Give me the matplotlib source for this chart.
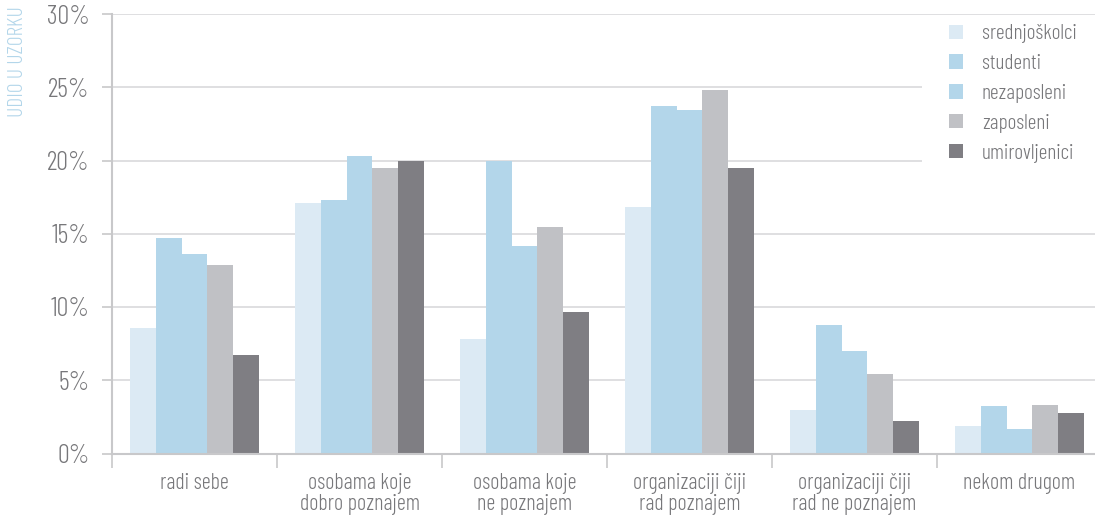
import matplotlib
matplotlib.use("Agg")
import matplotlib.pyplot as plt
import numpy as np
from matplotlib.ticker import FixedLocator, FuncFormatter
from matplotlib.patches import Rectangle

categories = ["radi sebe", "osobama koje\ndobro poznajem", "osobama koje\nne poznajem",
              "organizaciji čiji\nrad poznajem", "organizaciji čiji\nrad ne poznajem", "nekom drugom"]
series_names = ["srednjoškolci", "studenti", "nezaposleni", "zaposleni", "umirovljenici"]
srednjoskolci = [8.6, 17.1, 7.8, 16.8, 3.0, 1.9]
studenti = [14.7, 17.3, 20.0, 23.7, 8.8, 3.25]
nezaposleni = [13.6, 20.3, 14.15, 23.45, 7.0, 1.7]
zaposleni = [12.85, 19.5, 15.45, 24.8, 5.45, 3.3]
umirovljenici = [6.7, 20.0, 9.65, 19.5, 2.2, 2.75]
yticks = [0, 5, 10, 15, 20, 25, 30]

values = [srednjoskolci, studenti, nezaposleni, zaposleni, umirovljenici]
colors = ["#dceaf4", "#b3d6ea", "#b3d6ea", "#c0c1c5", "#7f7e83"]

font = ["Barlow Condensed", "Barlow Semi Condensed", "DejaVu Sans"]
plt.rcParams['font.family'] = font
plt.rcParams['font.weight'] = 300
text_color = "#77777a"

W, H = 1095, 515
fig = plt.figure(figsize=(W/100, H/100), dpi=100)
left, right, top, bottom = 112, 1102, 14, 453.5
ax = fig.add_axes([left/W, 1 - bottom/H, (right-left)/W, (bottom-top)/H])

n = len(categories)
x = np.arange(n)
bw = 25.8/165
for i, (name, vals, c) in enumerate(zip(series_names, values, colors)):
    ax.bar(x + (i - 2) * bw, vals, width=bw, color=c, label=name, zorder=2, linewidth=0)

ax.set_xlim(-0.5, n - 0.5)
ax.set_ylim(0, 30)
ax.set_yticks(yticks)
ax.yaxis.set_major_formatter(FuncFormatter(lambda v, p: f"{int(v)}%"))
ax.grid(axis='y', color="#d9d9db", linewidth=1.2, zorder=0)
ax.set_axisbelow(True)

ax.xaxis.set_major_locator(FixedLocator(np.arange(n + 1) - 0.5))
ax.xaxis.set_minor_locator(FixedLocator(x))
ax.xaxis.set_major_formatter(plt.NullFormatter())
ax.set_xticks(x, minor=True)
ax.set_xticklabels(categories, minor=True, fontsize=16, color=text_color, linespacing=1.02)
ax.tick_params(axis='x', which='major', length=10, width=1.2, color="#c8c8ca")
ax.tick_params(axis='x', which='minor', length=0, pad=14)
ax.tick_params(axis='y', length=7, width=1.2, color="#c8c8ca", labelsize=19, labelcolor=text_color, pad=9)

for s in ['top', 'right']:
    ax.spines[s].set_visible(False)
for s in ['left', 'bottom']:
    ax.spines[s].set_color("#c8c8ca")
    ax.spines[s].set_linewidth(1.5)

fig.text(18/W, 1 - 62/H, "UDIO U UZORKU", rotation=90, color="#b3d6ea", fontsize=15.5,
         ha='center', va='center')

# white area behind the legend (interrupts the gridlines), drawn above the axes
fig.add_artist(Rectangle((922/W, 1 - 190/H), (W - 922)/W, (190 - 18)/H, transform=fig.transFigure,
                         facecolor='white', edgecolor='none', zorder=1))

handles, labels = ax.get_legend_handles_labels()
leg = fig.legend(handles, labels, loc='upper left', bbox_to_anchor=(943/W, 1 - 18/H),
                 bbox_transform=fig.transFigure, frameon=False,
                 fontsize=15.5, handlelength=0.65, handleheight=0.65, handletextpad=0.85,
                 labelspacing=0.5, borderpad=0.3, borderaxespad=0)
leg.set_zorder(5)
for t in leg.get_texts():
    t.set_color(text_color)

fig.savefig("out.png", dpi=100)
